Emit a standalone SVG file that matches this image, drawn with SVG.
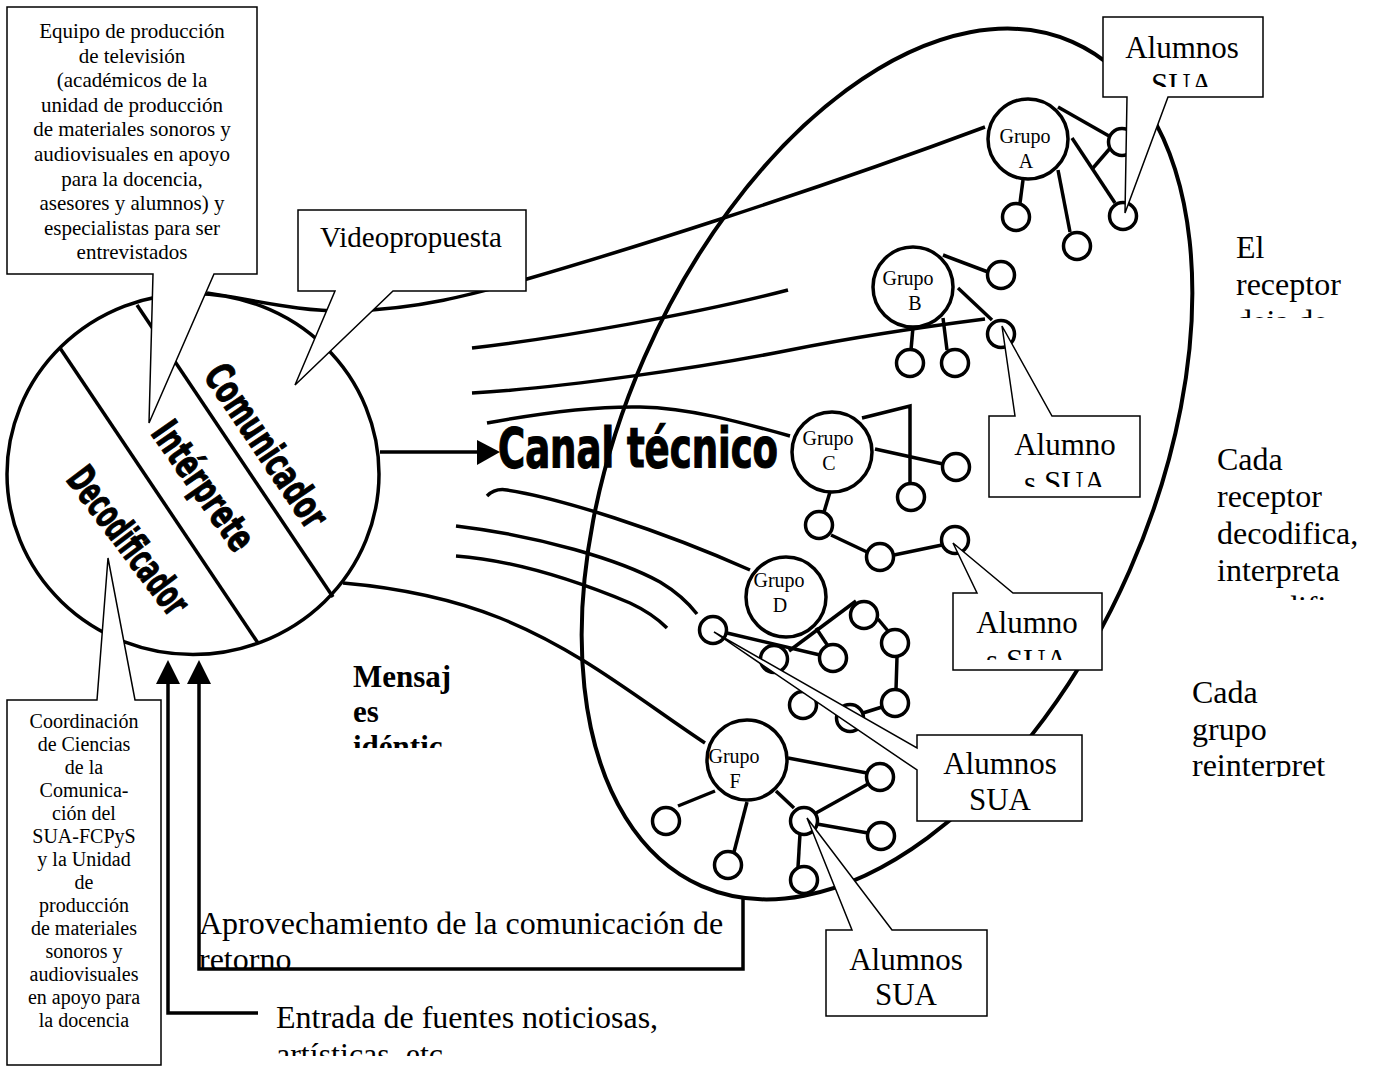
<svg xmlns="http://www.w3.org/2000/svg" width="1376" height="1066" viewBox="0 0 1376 1066">
<defs>
<style>
.ln{fill:none;stroke:#000;stroke-width:3.5}
.nd{fill:#fff;stroke:#000;stroke-width:3.5}
.co{fill:#fff;stroke:#000;stroke-width:1.5}
.t{font-family:"Liberation Serif","Times New Roman",serif;fill:#000}
.big{font-size:32px}
.al{font-size:31px;text-anchor:middle}
.gr{font-size:20px;text-anchor:middle}
.cs{font-size:21px;text-anchor:middle}
.cb{font-size:20px;text-anchor:middle}
.nar{font-family:"Liberation Sans Narrow","Arial Narrow","DejaVu Sans Condensed",sans-serif;font-weight:bold;fill:#000;stroke:#000;stroke-width:1}
</style>
<clipPath id="cTopAl"><rect x="1104" y="18" width="158" height="69"/></clipPath>
<clipPath id="cCAl"><rect x="990" y="417" width="149" height="70"/></clipPath>
<clipPath id="cDAl"><rect x="954" y="594" width="147" height="66"/></clipPath>
<clipPath id="cEl"><rect x="1230" y="225" width="146" height="93"/></clipPath>
<clipPath id="cCada1"><rect x="1210" y="440" width="166" height="160"/></clipPath>
<clipPath id="cCada2"><rect x="1185" y="670" width="191" height="107"/></clipPath>
<clipPath id="cMens"><rect x="345" y="655" width="130" height="93"/></clipPath>
<clipPath id="cEntr"><rect x="270" y="995" width="500" height="61"/></clipPath>
<clipPath id="cApro"><rect x="195" y="900" width="546" height="68"/></clipPath>
</defs>
<rect width="1376" height="1066" fill="#fff"/>

<g id="receptor-ellipse">
<ellipse class="ln" cx="0" cy="0" rx="461" ry="265" transform="translate(887,464) rotate(-66.3)" style="stroke-width:4"/>
</g>

<g id="connectors">
<path class="ln" d="M207,293 C255,300 300,312 350,311 C420,309 470,295 527,279 C620,252 800,196 985,127"/>
<path class="ln" d="M472,348 C560,338 700,313 788,290"/>
<path class="ln" d="M472,393 C560,388 700,368 790,350 C860,336 930,326 985,319"/>
<path class="ln" d="M487,423 C530,415 590,406 640,407 C690,408 740,422 790,436"/>
<line class="ln" x1="380" y1="452" x2="480" y2="452"/>
<polygon points="477,440 477,465 500,452" fill="#000"/>
<path class="ln" d="M487,496 Q495,488 507,490 C560,498 660,530 750,570"/>
<path class="ln" d="M456,526 C540,536 620,560 660,582 C680,594 690,605 697,614"/>
<path class="ln" d="M456,556 C510,560 570,578 630,603 C645,610 658,619 667,628"/>
<path class="ln" d="M343,583 C400,588 450,598 500,618 C580,650 640,700 705,743"/>
<path class="ln" d="M168,684 V1013 H258"/>
<polygon points="168,660 156,684 180,684" fill="#000"/>
<path class="ln" d="M199,684 V969 H743 V899"/>
<polygon points="199,660 187,684 211,684" fill="#000"/>
</g>

<g id="emisor">
<ellipse class="nd" cx="193" cy="474" rx="186" ry="180.5"/>
<line class="ln" x1="60" y1="348" x2="258" y2="643"/>
<line class="ln" x1="137" y1="305" x2="333" y2="597"/>
<text class="nar" font-size="40" text-anchor="middle" dy="0.33em" textLength="188" lengthAdjust="spacingAndGlyphs" transform="translate(266,446) rotate(56)">Comunicador</text>
<text class="nar" font-size="40" text-anchor="middle" dy="0.33em" textLength="148" lengthAdjust="spacingAndGlyphs" transform="translate(203,486) rotate(55)">Intérprete</text>
<text class="nar" font-size="40" text-anchor="middle" dy="0.33em" textLength="174" lengthAdjust="spacingAndGlyphs" transform="translate(128,541) rotate(53)">Decodificador</text>
</g>

<g id="canal">
<text class="nar" x="498" y="467" font-size="55" textLength="280" lengthAdjust="spacingAndGlyphs" style="stroke-width:1.2">Canal técnico</text>
</g>

<g id="grupo-a">
<line class="ln" x1="1023" y1="180" x2="1020" y2="203"/>
<line class="ln" x1="1058" y1="170" x2="1070" y2="232"/>
<line class="ln" x1="1072" y1="138" x2="1115" y2="203"/>
<line class="ln" x1="1058" y1="107" x2="1109" y2="136"/>
<line class="ln" x1="1093" y1="168" x2="1112" y2="146"/>
<circle class="nd" cx="1028" cy="139" r="40"/>
<circle class="nd" cx="1016" cy="217" r="13.5"/>
<circle class="nd" cx="1077" cy="246" r="13.5"/>
<circle class="nd" cx="1123" cy="216" r="13.5"/>
<circle class="nd" cx="1122" cy="142" r="13.5"/>
<text class="t gr" x="1025" y="143">Grupo</text>
<text class="t gr" x="1026" y="168">A</text>
</g>

<g id="grupo-b">
<line class="ln" x1="943" y1="255" x2="988" y2="272"/>
<line class="ln" x1="958" y1="288" x2="992" y2="320"/>
<line class="ln" x1="913" y1="327" x2="911" y2="350"/>
<line class="ln" x1="943" y1="318" x2="947" y2="350"/>
<circle class="nd" cx="913" cy="287" r="40"/>
<circle class="nd" cx="1001" cy="275" r="13.5"/>
<circle class="nd" cx="1001" cy="334" r="13.5"/>
<circle class="nd" cx="910" cy="363" r="13.5"/>
<circle class="nd" cx="955" cy="363" r="13.5"/>
<text class="t gr" x="908" y="285">Grupo</text>
<text class="t gr" x="915" y="310">B</text>
</g>

<g id="grupo-c">
<path class="ln" d="M862,418 L910,406 V484"/>
<line class="ln" x1="875" y1="449" x2="943" y2="464"/>
<line class="ln" x1="830" y1="492" x2="824" y2="512"/>
<line class="ln" x1="831" y1="535" x2="867" y2="552"/>
<line class="ln" x1="894" y1="555" x2="942" y2="545"/>
<circle class="nd" cx="832" cy="452" r="40"/>
<circle class="nd" cx="911" cy="497" r="13.5"/>
<circle class="nd" cx="956" cy="467" r="13.5"/>
<circle class="nd" cx="819" cy="525" r="13.5"/>
<circle class="nd" cx="880" cy="557" r="13.5"/>
<circle class="nd" cx="955" cy="540" r="13.5"/>
<text class="t gr" x="828" y="445">Grupo</text>
<text class="t gr" x="829" y="470">C</text>
</g>

<g id="grupo-d">
<line class="ln" x1="727" y1="633" x2="820" y2="655"/>
<line class="ln" x1="816" y1="628" x2="828" y2="646"/>
<line class="ln" x1="789" y1="651" x2="856" y2="601"/>
<line class="ln" x1="878" y1="619" x2="888" y2="631"/>
<line class="ln" x1="897" y1="657" x2="896" y2="690"/>
<line class="ln" x1="882" y1="707" x2="863" y2="713"/>
<circle class="nd" cx="786" cy="597" r="40"/>
<circle class="nd" cx="713" cy="630" r="13.5"/>
<circle class="nd" cx="774" cy="659" r="13.5"/>
<circle class="nd" cx="833" cy="658" r="13.5"/>
<circle class="nd" cx="864" cy="615" r="13.5"/>
<circle class="nd" cx="895" cy="643" r="13.5"/>
<circle class="nd" cx="895" cy="703" r="13.5"/>
<circle class="nd" cx="850" cy="718" r="13.5"/>
<circle class="nd" cx="803" cy="705" r="13.5"/>
<text class="t gr" x="779" y="587">Grupo</text>
<text class="t gr" x="780" y="612">D</text>
</g>

<g id="grupo-f">
<line class="ln" x1="788" y1="758" x2="867" y2="773"/>
<line class="ln" x1="715" y1="791" x2="678" y2="806"/>
<line class="ln" x1="747" y1="802" x2="734" y2="852"/>
<line class="ln" x1="776" y1="791" x2="794" y2="808"/>
<line class="ln" x1="816" y1="813" x2="868" y2="784"/>
<line class="ln" x1="817" y1="824" x2="868" y2="833"/>
<line class="ln" x1="800" y1="834" x2="798" y2="867"/>
<circle class="nd" cx="747" cy="760" r="40"/>
<circle class="nd" cx="880" cy="777" r="13.5"/>
<circle class="nd" cx="666" cy="821" r="13.5"/>
<circle class="nd" cx="728" cy="865" r="13.5"/>
<circle class="nd" cx="804" cy="821" r="13.5"/>
<circle class="nd" cx="881" cy="836" r="13.5"/>
<circle class="nd" cx="804" cy="880" r="13.5"/>
<text class="t gr" x="734" y="763">Grupo</text>
<text class="t gr" x="735" y="788">F</text>
</g>

<g id="equipo-produccion">
<path class="co" d="M7,7 H257 V274 H214 L149,423 L153,274 H7 Z"/>
<text class="t cs" x="132" y="38">Equipo de producción</text>
<text class="t cs" x="132" y="62.6">de televisión</text>
<text class="t cs" x="132" y="87.2">(académicos de la</text>
<text class="t cs" x="132" y="111.8">unidad de producción</text>
<text class="t cs" x="132" y="136.4">de materiales sonoros y</text>
<text class="t cs" x="132" y="161">audiovisuales en apoyo</text>
<text class="t cs" x="132" y="185.6">para la docencia,</text>
<text class="t cs" x="132" y="210.2">asesores y alumnos) y</text>
<text class="t cs" x="132" y="234.8">especialistas para ser</text>
<text class="t cs" x="132" y="259.4">entrevistados</text>
</g>

<g id="videopropuesta">
<path class="co" d="M298,210 H526 V291 H393 L295,385 L335,291 H298 Z"/>
<text class="t" x="411" y="247" font-size="29" text-anchor="middle">Videopropuesta</text>
</g>

<g id="coordinacion">
<path class="co" d="M7,700 H97 L108,558 L135,700 H161 V1065 H7 Z"/>
<text class="t cb" x="84" y="728">Coordinación</text>
<text class="t cb" x="84" y="751">de Ciencias</text>
<text class="t cb" x="84" y="774">de la</text>
<text class="t cb" x="84" y="797">Comunica-</text>
<text class="t cb" x="84" y="820">ción del</text>
<text class="t cb" x="84" y="843">SUA-FCPyS</text>
<text class="t cb" x="84" y="866">y la Unidad</text>
<text class="t cb" x="84" y="889">de</text>
<text class="t cb" x="84" y="912">producción</text>
<text class="t cb" x="84" y="935">de materiales</text>
<text class="t cb" x="84" y="958">sonoros y</text>
<text class="t cb" x="84" y="981">audiovisuales</text>
<text class="t cb" x="84" y="1004">en apoyo para</text>
<text class="t cb" x="84" y="1027">la docencia</text>
</g>

<g id="alumnos-a">
<path class="co" d="M1103,17 H1263 V97 H1168 L1125,213 L1127,97 H1103 Z"/>
<g clip-path="url(#cTopAl)">
<text class="t al" x="1182" y="58">Alumnos</text>
<text class="t al" x="1182" y="95">SUA</text>
</g>
</g>

<g id="alumno-b">
<path class="co" d="M989,416 H1015 L1002,326 L1052,416 H1140 V497 H989 Z"/>
<g clip-path="url(#cCAl)">
<text class="t al" x="1065" y="455">Alumno</text>
<text class="t al" x="1065" y="493">s SUA</text>
</g>
</g>

<g id="alumno-c">
<path class="co" d="M953,593 H977 L953,543 L1013,593 H1102 V670 H953 Z"/>
<g clip-path="url(#cDAl)">
<text class="t al" x="1027" y="633">Alumno</text>
<text class="t al" x="1027" y="671">s SUA</text>
</g>
</g>

<g id="alumnos-d">
<path class="co" d="M917,735 H1082 V821 H917 V770 L714,632 L917,748 Z"/>
<text class="t al" x="1000" y="774">Alumnos</text>
<text class="t al" x="1000" y="810">SUA</text>
</g>

<g id="alumnos-f">
<path class="co" d="M826,930 H852 L807,818 L892,930 H987 V1016 H826 Z"/>
<text class="t al" x="906" y="970">Alumnos</text>
<text class="t al" x="906" y="1005">SUA</text>
</g>

<g id="textos">
<g clip-path="url(#cEl)">
<text class="t big" x="1236" y="258">El</text>
<text class="t big" x="1236" y="295">receptor</text>
<text class="t big" x="1236" y="332">deja de</text>
</g>
<g clip-path="url(#cCada1)">
<text class="t big" x="1217" y="470">Cada</text>
<text class="t big" x="1217" y="507">receptor</text>
<text class="t big" x="1217" y="544">decodifica,</text>
<text class="t big" x="1217" y="581">interpreta</text>
<text class="t big" x="1217" y="618">y modifica</text>
</g>
<g clip-path="url(#cCada2)">
<text class="t big" x="1192" y="703">Cada</text>
<text class="t big" x="1192" y="740">grupo</text>
<text class="t big" x="1192" y="776">reinterpret</text>
</g>
<g clip-path="url(#cMens)">
<text class="t" x="353" y="687" font-size="31" font-weight="bold">Mensaj</text>
<text class="t" x="353" y="722" font-size="31" font-weight="bold">es</text>
<text class="t" x="353" y="757" font-size="31" font-weight="bold">idéntic</text>
</g>
<g clip-path="url(#cApro)">
<text class="t big" x="199" y="934">Aprovechamiento de la comunicación de</text>
<text class="t big" x="199" y="970">retorno</text>
</g>
<g clip-path="url(#cEntr)">
<text class="t big" x="276" y="1028">Entrada de fuentes noticiosas,</text>
<text class="t big" x="276" y="1065">artísticas, etc</text>
</g>
</g>
</svg>
